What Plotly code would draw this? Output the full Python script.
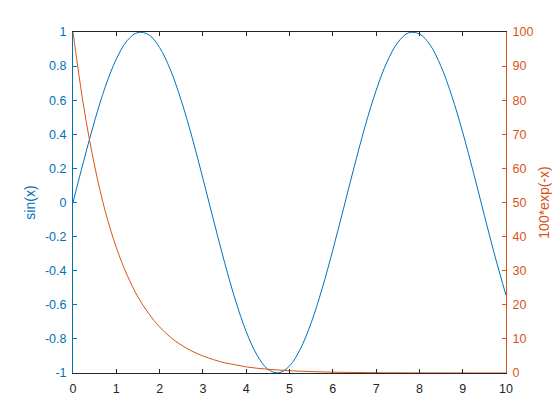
import plotly.graph_objects as go

x = [0, 0.25, 0.5, 0.75, 1, 1.25, 1.5, 1.75, 2, 2.25, 2.5, 2.75, 3, 3.25, 3.5, 3.75, 4,
     4.25, 4.5, 4.75, 5, 5.25, 5.5, 5.75, 6, 6.25, 6.5, 6.75, 7, 7.25, 7.5, 7.75, 8,
     8.25, 8.5, 8.75, 9, 9.25, 9.5, 9.75, 10]
sin_vals = [0, 0.247, 0.479, 0.682, 0.841, 0.949, 0.997, 0.984, 0.909, 0.778, 0.598,
            0.382, 0.141, -0.108, -0.351, -0.572, -0.757, -0.895, -0.978, -0.999, -0.959,
            -0.859, -0.706, -0.508, -0.279, -0.033, 0.215, 0.451, 0.657, 0.823, 0.938,
            0.995, 0.989, 0.923, 0.798, 0.624, 0.412, 0.174, -0.075, -0.319, -0.544]
exp_vals = [100, 77.9, 60.7, 47.2, 36.8, 28.7, 22.3, 17.4, 13.5, 10.5, 8.2, 6.4, 5.0,
            3.9, 3.0, 2.4, 1.8, 1.4, 1.1, 0.87, 0.67, 0.52, 0.41, 0.32, 0.25, 0.19, 0.15,
            0.12, 0.09, 0.07, 0.055, 0.043, 0.034, 0.026, 0.02, 0.016, 0.012, 0.01, 0.0075,
            0.006, 0.0045]

# left axis ticks, written with a plain hyphen like the original
sin_ticks = [-1, -0.8, -0.6, -0.4, -0.2, 0, 0.2, 0.4, 0.6, 0.8, 1]
sin_tick_text = ["-1", "-0.8", "-0.6", "-0.4", "-0.2", "0", "0.2", "0.4", "0.6", "0.8", "1"]

blue = "#0072BD"
orange = "#D95319"
font = "Liberation Sans, Arial, sans-serif"

fig = go.Figure()
fig.add_trace(go.Scatter(x=x, y=sin_vals, mode="lines", line=dict(color=blue, width=1, shape="spline")))
fig.add_trace(go.Scatter(x=x, y=exp_vals, mode="lines", yaxis="y2",
                         line=dict(color=orange, width=1, shape="spline")))

# page body adds ~8px offset, so margins are shifted to compensate
fig.update_layout(
    width=560, height=420,
    margin=dict(l=65, r=62, t=24, b=55),
    paper_bgcolor="white", plot_bgcolor="white",
    showlegend=False,
    font=dict(family=font, size=12, color="#262626"),
    xaxis=dict(range=[0, 10], dtick=1, ticks="inside", ticklen=4, tickcolor="#262626",
               showline=True, linecolor="#262626", linewidth=1, mirror="ticks",
               showgrid=False, zeroline=False, ticklabelstandoff=4,
               tickfont=dict(size=12.5, color="#262626")),
    yaxis=dict(range=[-1, 1], tickvals=sin_ticks, ticktext=sin_tick_text,
               ticks="inside", ticklen=4, tickcolor=blue,
               showline=True, linecolor=blue, linewidth=1, showgrid=False, zeroline=False,
               ticklabelstandoff=3, tickfont=dict(size=12.5, color=blue),
               title=dict(text="sin(x)", font=dict(size=14, color=blue), standoff=6)),
    yaxis2=dict(range=[0, 100], dtick=10, ticks="inside", ticklen=4, tickcolor=orange,
                overlaying="y", side="right",
                showline=True, linecolor=orange, linewidth=1, showgrid=False, zeroline=False,
                ticklabelstandoff=3, tickfont=dict(size=12.5, color=orange),
                title=dict(text="100*exp(-x)", font=dict(size=14, color=orange), standoff=6)),
)

fig.write_html("out.html")
